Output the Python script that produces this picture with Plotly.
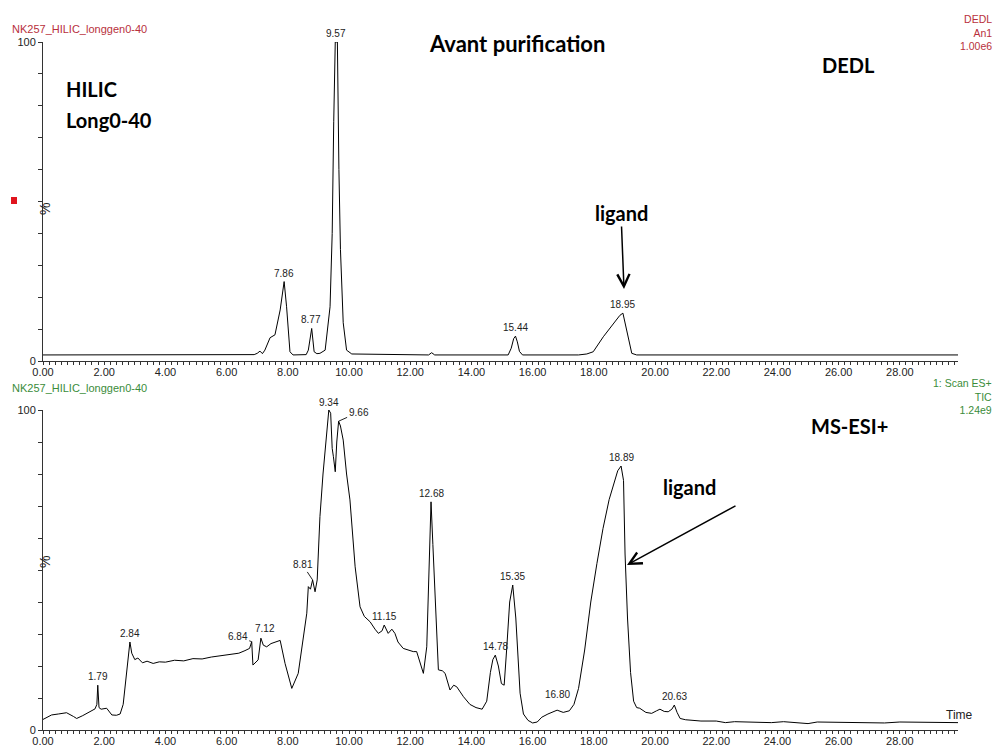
import plotly.graph_objects as go

W, H = 997, 748

# ---------------- data ----------------
dedl_time = [0, 3, 6.9, 7.0, 7.09, 7.17, 7.25, 7.42, 7.58, 7.75, 7.88, 7.96, 8.07, 8.17,
             8.6, 8.67, 8.78, 8.86, 8.95, 9.05, 9.22, 9.38, 9.45, 9.5, 9.55, 9.58, 9.62,
             9.67, 9.72, 9.81, 9.92, 10.09, 12.6, 12.7, 12.8, 15.2, 15.3, 15.38, 15.44,
             15.5, 15.57, 15.67, 17.5, 17.77, 17.98, 18.31, 18.64, 18.85, 18.95, 19.05,
             19.15, 19.24, 19.4, 24, 29.9]
dedl_val = [1.9, 1.9, 2.0, 2.4, 3.1, 2.3, 3.4, 7.3, 8.2, 16, 24.9, 17, 2.9, 1.9,
            2.0, 3.4, 10.2, 2.9, 2.3, 2.4, 3.4, 17, 40, 75, 100, 100, 100,
            60, 35, 12, 3.4, 2.2, 1.9, 2.6, 1.9, 1.9, 4, 7, 7.8,
            6, 3, 1.9, 1.9, 2.2, 2.9, 7.6, 11.8, 14.3, 15, 11,
            6, 2.4, 1.9, 1.9, 1.9]

tic_time = [0, 0.28, 0.5, 0.77, 1.0, 1.1, 1.3, 1.54, 1.7, 1.76, 1.79, 1.83, 1.9, 2.08, 2.25,
            2.4, 2.52, 2.62, 2.7, 2.78, 2.84, 2.9, 3.0, 3.1, 3.25, 3.4, 3.6, 3.8, 4.0, 4.3,
            4.6, 4.9, 5.2, 5.5, 5.8, 6.1, 6.4, 6.6, 6.75, 6.82, 6.86, 7.03, 7.12, 7.2, 7.31,
            7.45, 7.64, 7.75, 7.91, 8.13, 8.34, 8.5, 8.62, 8.67, 8.74, 8.81, 8.89, 8.96, 9.05,
            9.15, 9.27, 9.34, 9.4, 9.45, 9.49, 9.55, 9.6, 9.66, 9.72, 9.81, 9.92, 10.03, 10.2,
            10.36, 10.5, 10.69, 10.85, 10.96, 11.08, 11.15, 11.28, 11.4, 11.5, 11.6, 11.77,
            11.95, 12.1, 12.21, 12.35, 12.43, 12.54, 12.62, 12.68, 12.74, 12.81, 12.92, 13.05,
            13.14, 13.3, 13.42, 13.52, 13.74, 13.95, 14.15, 14.35, 14.5, 14.62, 14.7, 14.78,
            14.88, 14.98, 15.07, 15.15, 15.25, 15.35, 15.45, 15.59, 15.7, 15.85, 16.0, 16.15,
            16.3, 16.5, 16.65, 16.8, 17.0, 17.2, 17.35, 17.5, 17.7, 17.9, 18.1, 18.3, 18.5,
            18.65, 18.78, 18.89, 18.97, 19.02, 19.1, 19.2, 19.3, 19.4, 19.5, 19.7, 19.89,
            20.05, 20.16, 20.3, 20.43, 20.55, 20.63, 20.72, 20.82, 21.0, 21.14, 21.5, 22.0,
            22.3, 22.6, 23.0, 23.5, 23.8, 24.2, 24.6, 25.0, 25.3, 26.0, 26.5, 27.0, 27.5,
            28.0, 28.5, 29.0, 29.9]
tic_val = [3.3, 4.7, 5.0, 5.4, 4.2, 3.6, 4.5, 5.7, 6.6, 8, 14, 7, 6.5, 6.8, 4.7,
           4.6, 5.0, 8, 15, 24, 27.5, 24, 22, 22.5, 21, 21.5, 20.8, 21.3, 21.2, 21.8,
           21.6, 22.3, 22.2, 22.8, 23.2, 23.5, 24, 24.8, 25.5, 27.6, 20.3, 21.9, 28.7, 26.5, 26,
           27, 27.6, 28, 20.8, 13, 17.7, 28, 36.5, 44.8, 44, 46.9, 43.2, 46.9, 66.7,
           80, 93, 100, 99, 88, 85.4, 80.7, 90, 96.5, 95, 90.6, 80, 71.9, 51,
           38.5, 35.5, 33.8, 31.5, 30.2, 31, 32.8, 30.2, 31.5, 30.2, 27.5, 25.5,
           25, 24.5, 24.5, 20, 17.7, 26, 55, 71.3, 58, 40.6, 18.8, 18.5,
           17.7, 12.5, 14, 13.5, 10.4, 8, 7, 6.5, 9, 18, 22, 23.4,
           20, 14.5, 14, 25, 40, 45.3, 35, 11.5, 5, 3, 2.2, 2.5,
           4, 5, 5.5, 6.2, 5.5, 6, 8, 13, 25, 40, 52, 63, 72,
           77, 81, 82.5, 78, 55, 35, 18, 9, 7, 6.8, 5.5, 5.2,
           6, 6.5, 5.8, 5.7, 6.5, 7.8, 5.5, 3.6, 3.2, 3.1, 2.8, 2.8,
           2.3, 2.6, 2.5, 2.6, 2.3, 2.6, 2.2, 2.0, 2.5, 2.4, 2.5, 2.4, 2.2,
           2.5, 2.4, 2.3, 2.3]

dedl_peaks = [7.86, 8.77, 9.57, 15.44, 18.95]
dedl_peak_vals = [24.9, 10.2, 100, 7.8, 15]
tic_peaks = [1.79, 2.84, 7.12, 11.15, 12.68, 14.78, 15.35, 16.80, 18.89, 20.63]
tic_peak_vals = [14, 27.5, 28.7, 32.8, 71.3, 23.4, 45.3, 6.2, 82.5, 7.8]

x_ticks = [0, 2, 4, 6, 8, 10, 12, 14, 16, 18, 20, 22, 24, 26, 28]
x_range = [0, 29.9]

dedl_header = ["DEDL", "An1", "1.00e6"]
tic_header = ["1: Scan ES+", "TIC", "1.24e9"]

# ---------------- styling ----------------
RED = "#b8303c"
GREEN = "#3a8c3a"
BOLD = "Lato, 'Open Sans', sans-serif"
SMALL = "Liberation Sans, Arial, sans-serif"
tic_label_yshift = {16.80: 7, 7.12: 1}
tic_label_xshift = {7.12: 4}


def px(x):
    return x / W


def py(y):
    return 1 - y / H


fig = go.Figure()
fig.add_trace(go.Scatter(x=dedl_time, y=dedl_val, mode="lines",
                         line=dict(color="black", width=1), xaxis="x", yaxis="y",
                         showlegend=False, hoverinfo="skip"))
fig.add_trace(go.Scatter(x=tic_time, y=tic_val, mode="lines",
                         line=dict(color="black", width=1), xaxis="x2", yaxis="y2",
                         showlegend=False, hoverinfo="skip"))

xdom = [px(43), px(958)]


def xaxis_cfg(anchor):
    return dict(domain=xdom, range=x_range, anchor=anchor, showgrid=False, zeroline=False,
                automargin=False,
                showline=True, linecolor="#333", linewidth=1,
                ticks="outside", ticklen=1, tickwidth=1, tickcolor="#333",
                tickvals=x_ticks, tickformat=".2f",
                tickfont=dict(family=SMALL, size=11, color="#222"),
                minor=dict(dtick=0.2, ticks="outside", ticklen=3, tickcolor="#333", showgrid=False))


def xaxis_major(anchor, over):
    return dict(domain=xdom, range=x_range, anchor=anchor, overlaying=over, side="bottom",
                showgrid=False, zeroline=False, automargin=False, showline=False,
                ticks="outside", ticklen=6, tickwidth=1, tickcolor="#333",
                tickvals=x_ticks, showticklabels=False)


def yaxis_cfg(anchor, dom):
    return dict(domain=dom, range=[0, 100], anchor=anchor, showgrid=False, zeroline=False,
                automargin=False,
                showline=True, linecolor="#333", linewidth=1,
                ticks="outside", ticklen=4, tickcolor="#333",
                tickvals=[0, 100], ticktext=["0", "100"],
                tickfont=dict(family=SMALL, size=11, color="#222"),
                minor=dict(dtick=10, ticks="outside", ticklen=4, tickcolor="#333", showgrid=False))


fig.update_layout(
    width=W, height=H, margin=dict(l=0, r=0, t=0, b=0, pad=0, autoexpand=False),
    paper_bgcolor="white", plot_bgcolor="white",
    xaxis=xaxis_cfg("y"),
    yaxis=yaxis_cfg("x", [py(361), py(42)]),
    xaxis2=xaxis_cfg("y2"),
    yaxis2=yaxis_cfg("x2", [py(730), py(410)]),
    xaxis3=xaxis_major("y", "x"),
    xaxis4=xaxis_major("y2", "x2"),
)

lab_font = dict(family=SMALL, size=10, color="#222")
ann = []
for t, v in zip(dedl_peaks, dedl_peak_vals):
    ann.append(dict(x=t, y=v, xref="x", yref="y", text=f"{t:.2f}", showarrow=False,
                    yanchor="bottom", yshift=1, font=lab_font))
for t, v in zip(tic_peaks, tic_peak_vals):
    ann.append(dict(x=t, y=v, xref="x2", yref="y2", text=f"{t:.2f}", showarrow=False,
                    yanchor="bottom", yshift=1 + tic_label_yshift.get(t, 0),
                    xshift=tic_label_xshift.get(t, 0), font=lab_font))
ann.append(dict(x=9.34, y=100, xref="x2", yref="y2", text="9.34", showarrow=False,
                yanchor="bottom", yshift=0, font=lab_font))
ann.append(dict(x=9.66, y=96.5, xref="x2", yref="y2", text="9.66", showarrow=True,
                arrowhead=0, arrowwidth=1, arrowcolor="#222", ax=20, ay=-9, font=lab_font))
ann.append(dict(x=8.81, y=46.9, xref="x2", yref="y2", text="8.81", showarrow=True,
                arrowhead=0, arrowwidth=1, arrowcolor="#222", ax=-10, ay=-15, font=lab_font))
ann.append(dict(x=6.82, y=27.6, xref="x2", yref="y2", text="6.84", showarrow=True,
                arrowhead=0, arrowwidth=1, arrowcolor="#222", ax=-14, ay=-5, font=lab_font))

hdr = dict(family=SMALL, size=10.5)
ann += [
    dict(x=px(10), y=py(21), xref="paper", yref="paper", text="NK257_HILIC_longgen0-40",
         showarrow=False, xanchor="left", font=dict(family=SMALL, size=11, color=RED)),
    dict(x=px(994), y=py(32.5), xref="paper", yref="paper", text="<br>".join(dedl_header),
         showarrow=False, xanchor="right", yanchor="middle", align="right",
         font=dict(hdr, color=RED)),
    dict(x=px(10), y=py(388), xref="paper", yref="paper", text="NK257_HILIC_longgen0-40",
         showarrow=False, xanchor="left", font=dict(family=SMALL, size=11, color=GREEN)),
    dict(x=px(994), y=py(396), xref="paper", yref="paper", text="<br>".join(tic_header),
         showarrow=False, xanchor="right", yanchor="middle", align="right",
         font=dict(hdr, color=GREEN)),
    dict(x=px(975), y=py(724), xref="paper", yref="paper", text="Time", showarrow=False,
         font=dict(family=SMALL, size=12, color="#222")),
    dict(x=px(35), y=py(201), xref="paper", yref="paper", text="%", textangle=-90,
         showarrow=False, font=dict(family=SMALL, size=14, color="#222")),
    dict(x=px(35), y=py(570), xref="paper", yref="paper", text="%", textangle=-90,
         showarrow=False, font=dict(family=SMALL, size=14, color="#222")),
    # bold annotations
    dict(x=px(517), y=py(28), xref="paper", yref="paper", text="<b>Avant purification</b>",
         showarrow=False, font=dict(family=BOLD, size=22, color="black")),
    dict(x=px(64), y=py(75), xref="paper", yref="paper", text="<b>HILIC</b>", xanchor="left",
         showarrow=False, font=dict(family=BOLD, size=20, color="black")),
    dict(x=px(64), y=py(106), xref="paper", yref="paper", text="<b>Long0-40</b>", xanchor="left",
         showarrow=False, font=dict(family=BOLD, size=20, color="black")),
    dict(x=px(877), y=py(51), xref="paper", yref="paper", text="<b>DEDL</b>",
         showarrow=False, font=dict(family=BOLD, size=20, color="black")),
    dict(x=px(890), y=py(426), xref="paper", yref="paper", text="<b>MS-ESI+</b>",
         showarrow=False, font=dict(family=BOLD, size=20, color="black")),
    dict(x=px(718), y=py(487), xref="paper", yref="paper", text="<b>ligand</b>",
         showarrow=False, font=dict(family=BOLD, size=20, color="black")),
    # top ligand arrow
    dict(x=px(624), y=py(289), xref="paper", yref="paper", text="<b>ligand</b>",
         showarrow=True, ax=-3, ay=-76, arrowhead=5, arrowsize=1.6, arrowwidth=1.5,
         arrowcolor="black", font=dict(family=BOLD, size=20, color="black")),
    # bottom ligand arrow
    dict(x=px(627), y=py(565), xref="paper", yref="paper", text="",
         showarrow=True, ax=110, ay=-60, arrowhead=5, arrowsize=1.6, arrowwidth=1.5,
         arrowcolor="black"),
]
fig.update_layout(annotations=ann)

# red marker square
fig.add_shape(type="rect", xref="paper", yref="paper",
              x0=px(11), x1=px(17), y0=py(204), y1=py(197),
              fillcolor="#e0141e", line=dict(width=0))

fig.write_html("out.html", config={"displayModeBar": False},
               post_script="document.body.style.margin='0';document.body.style.overflow='hidden';")
